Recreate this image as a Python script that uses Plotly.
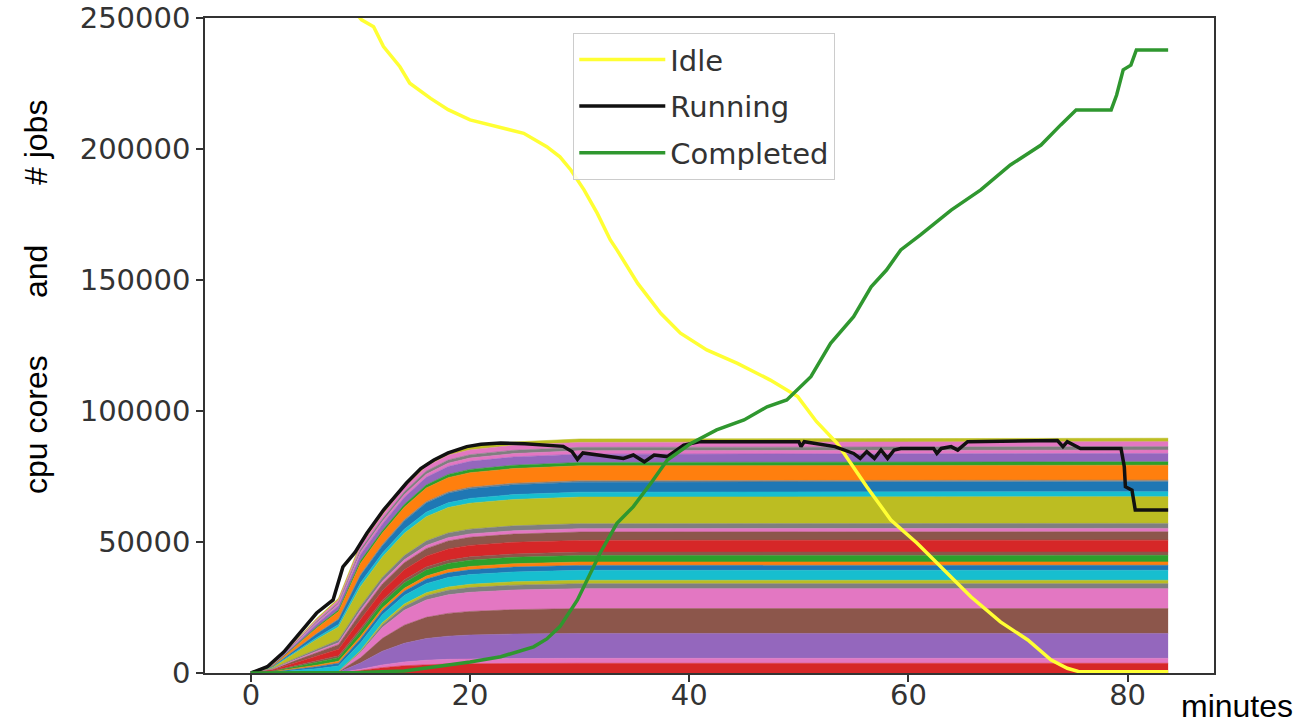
import plotly.graph_objects as go

# ---------------- data ----------------
# stacked cpu-core bands (thousands of cores), sampled at these minutes
stack_t = [0, 2, 4, 6, 8, 10, 12, 14, 16, 18, 20, 24, 30, 83.7]

band_a1_red    = [0, 0, 0, 0, 0.07, 0.93, 2.04, 2.78, 3.22, 3.44, 3.55, 3.64, 3.70, 3.70]
band_a2_pink   = [0, 0, 0, 0, 0.04, 0.48, 1.05, 1.43, 1.65, 1.77, 1.82, 1.87, 1.90, 1.90]
band_a3_purple = [0, 0, 0, 0, 0.19, 2.38, 5.23, 7.13, 8.27, 8.84, 9.12, 9.36, 9.50, 9.50]
band_a4_brown  = [0, 0, 0, 0, 0.10, 2.00, 4.90, 6.90, 8.10, 8.70, 9.00, 9.30, 9.50, 9.50]
band_a5_pink   = [0, 0, 0, 0, 0.15, 1.90, 4.18, 5.70, 6.61, 7.07, 7.30, 7.49, 7.60, 7.60]
band_a6_gray   = [0, 0, 0, 0, 0.04, 0.48, 1.05, 1.43, 1.65, 1.77, 1.82, 1.87, 1.90, 1.90]
band_a7_olive  = [0, 0, 0, 0, 0.03, 0.33, 0.72, 0.98, 1.13, 1.21, 1.25, 1.28, 1.30, 1.30]
band_b1_cyan   = [0.04, 0.30, 0.95, 1.60, 2.09, 2.96, 3.04, 3.23, 3.46, 3.61, 3.69, 3.74, 3.78, 3.80]
band_b2_blue   = [0.02, 0.15, 0.48, 0.80, 1.05, 1.48, 1.52, 1.62, 1.73, 1.81, 1.84, 1.87, 1.89, 1.90]
band_b3_orange = [0.01, 0.10, 0.33, 0.55, 0.72, 1.01, 1.04, 1.11, 1.18, 1.24, 1.26, 1.28, 1.29, 1.30]
band_b4_green  = [0.03, 0.20, 0.63, 1.05, 1.38, 1.95, 2.00, 2.13, 2.28, 2.38, 2.43, 2.46, 2.49, 2.50]
band_b5_brown  = [0.01, 0.10, 0.33, 0.55, 0.72, 1.01, 1.04, 1.11, 1.18, 1.24, 1.26, 1.28, 1.29, 1.30]
band_b6_red    = [0.05, 0.36, 1.13, 1.89, 2.48, 3.51, 3.60, 3.83, 4.10, 4.28, 4.37, 4.43, 4.48, 4.50]
band_b7_brown  = [0.03, 0.26, 0.80, 1.34, 1.76, 2.50, 2.56, 2.72, 2.91, 3.04, 3.10, 3.15, 3.18, 3.20]
band_b8_pink   = [0.01, 0.10, 0.33, 0.55, 0.72, 1.01, 1.04, 1.11, 1.18, 1.24, 1.26, 1.28, 1.29, 1.30]
band_b9_gray   = [0.02, 0.15, 0.48, 0.80, 1.05, 1.48, 1.52, 1.62, 1.73, 1.81, 1.84, 1.87, 1.89, 1.90]
band_c1_olive  = [0.05, 0.51, 2.04, 3.67, 5.00, 7.55, 7.75, 8.47, 9.28, 9.69, 9.89, 10.05, 10.15, 10.20]
band_c3_cyan   = [0.01, 0.10, 0.38, 0.68, 0.93, 1.41, 1.44, 1.58, 1.73, 1.81, 1.84, 1.87, 1.89, 1.90]
band_c4_blue   = [0.02, 0.19, 0.76, 1.37, 1.86, 2.81, 2.89, 3.15, 3.46, 3.61, 3.69, 3.74, 3.78, 3.80]
band_c5_gray   = [0.00, 0.03, 0.12, 0.22, 0.29, 0.44, 0.46, 0.50, 0.55, 0.57, 0.58, 0.59, 0.60, 0.60]
band_c6_orange = [0.03, 0.29, 1.14, 2.05, 2.79, 4.22, 4.33, 4.73, 5.19, 5.42, 5.53, 5.61, 5.67, 5.70]
band_c7_green  = [0.01, 0.07, 0.26, 0.47, 0.64, 0.96, 0.99, 1.08, 1.18, 1.24, 1.26, 1.28, 1.29, 1.30]
band_c8_purple = [0.02, 0.16, 0.64, 1.15, 1.57, 2.37, 2.43, 2.66, 2.91, 3.04, 3.10, 3.15, 3.18, 3.20]
band_c9_pink   = [0.01, 0.07, 0.26, 0.47, 0.64, 0.96, 0.99, 1.08, 1.18, 1.24, 1.26, 1.28, 1.29, 1.30]
band_c10_gray  = [0.01, 0.07, 0.26, 0.47, 0.64, 0.96, 0.99, 1.08, 1.18, 1.24, 1.26, 1.28, 1.29, 1.30]
band_c11_pink  = [0.01, 0.10, 0.38, 0.68, 0.93, 1.41, 1.44, 1.58, 1.73, 1.81, 1.84, 1.87, 1.89, 1.90]
band_c12_olive = [0.01, 0.07, 0.26, 0.47, 0.64, 0.96, 0.99, 1.08, 1.18, 1.24, 1.26, 1.28, 1.29, 1.30]

# Running jobs
running_t = [0, 1.5, 3, 4.5, 6, 7.5, 8.4, 9.5, 10.6, 12.1, 13, 14.2, 15.5, 16.7, 18, 19.7, 21, 22.8,
             25, 27.3, 28.5, 29.3, 29.8, 30.3, 31.9, 34.0, 34.9, 35.9, 36.8, 38.0, 39.5, 41.0, 45,
             50.0, 50.2, 50.5, 53.3, 55.0, 55.6, 56.2, 56.9, 57.5, 58.1, 58.7, 59.3, 62.3, 62.6, 63.0,
             63.9, 64.5, 65.4, 73.6, 74.1, 74.5, 75.7, 79.4, 79.7, 79.8, 80.4, 80.7, 83.7]
running_v = [0, 2400, 8000, 15300, 22900, 27900, 40500, 46000, 53400, 62200, 66500, 72500, 78000,
             81300, 84000, 86400, 87300, 87800, 87500, 87000, 86500, 84500, 81500, 84000, 83200,
             81900, 83200, 80600, 83200, 82600, 87000, 88300, 88300, 88300, 86400, 88300, 86400,
             83800, 81900, 84500, 81900, 85100, 81900, 85100, 85700, 85700, 83800, 85700, 86400,
             85100, 88300, 88700, 86400, 88300, 85700, 85700, 78700, 71100, 69800, 62200, 62200]

# Idle jobs
idle_t = [0, 8, 10.1, 11.2, 12.1, 13.6, 14.5, 16.4, 18, 20, 22.5, 24.9, 27, 28.2, 29.2, 30.4, 31.6,
          32.8, 33.4, 35.3, 37.4, 39.2, 41.6, 44.4, 47.4, 49.9, 51.6, 53.5, 56.2, 58.4, 60.8, 63.9,
          65.7, 68.4, 70.9, 73.0, 74.5, 75.5, 83.7]
idle_v = [300000, 260000, 249300, 246700, 239100, 231400, 225100, 219300, 215000, 211100, 208500,
          206000, 200900, 197000, 192000, 184400, 175500, 165300, 161500, 148700, 137300, 129700,
          123300, 118200, 111800, 105500, 96000, 87700, 71100, 58400, 49500, 36800, 29100, 19500,
          12600, 5000, 1800, 600, 500]

# Completed jobs
completed_t = [0, 10, 14, 16.7, 20, 22.8, 25.8, 27, 28.2, 29.8, 31.0, 31.9, 33.4, 34.9, 36.5, 38.0,
               40.1, 42.5, 45.0, 47.1, 48.9, 51.1, 52.9, 55.0, 56.6, 58, 59.3, 61.1, 63.9, 66.6,
               69.3, 72.1, 73.9, 75.3, 78.5, 79.0, 79.6, 80.3, 80.8, 83.7]
completed_v = [0, 200, 800, 2400, 4200, 6200, 10000, 13000, 17700, 27900, 38000, 46000, 57100,
               63500, 72400, 81300, 87500, 92800, 96600, 101600, 104200, 113100, 125800, 136000,
               147400, 153800, 161500, 167200, 176700, 184400, 193900, 201500, 209200, 214900,
               214900, 220600, 230200, 232000, 237800, 237800]

x_ticks = [0, 20, 40, 60, 80]
y_ticks = [0, 50000, 100000, 150000, 200000, 250000]
y_tick_labels = ["0", "50000", "100000", "150000", "200000", "250000"]

# ---------------- figure ----------------
RED, PINK, PURPLE, BROWN = "#d62728", "#e377c2", "#9467bd", "#8c564b"
GRAY, OLIVE, CYAN, BLUE = "#7f7f7f", "#bcbd22", "#17becf", "#1f77b4"
ORANGE, GREEN = "#ff7f0e", "#2ca02c"

bands = [
    (band_a1_red, RED), (band_a2_pink, PINK), (band_a3_purple, PURPLE), (band_a4_brown, BROWN),
    (band_a5_pink, PINK), (band_a6_gray, GRAY), (band_a7_olive, OLIVE), (band_b1_cyan, CYAN),
    (band_b2_blue, BLUE), (band_b3_orange, ORANGE), (band_b4_green, GREEN), (band_b5_brown, BROWN),
    (band_b6_red, RED), (band_b7_brown, BROWN), (band_b8_pink, PINK), (band_b9_gray, GRAY),
    (band_c1_olive, OLIVE), (band_c3_cyan, CYAN), (band_c4_blue, BLUE), (band_c5_gray, GRAY),
    (band_c6_orange, ORANGE), (band_c7_green, GREEN), (band_c8_purple, PURPLE),
    (band_c9_pink, PINK), (band_c10_gray, GRAY), (band_c11_pink, PINK), (band_c12_olive, OLIVE),
]

fig = go.Figure()
for vals, col in bands:
    fig.add_trace(go.Scatter(
        x=stack_t, y=[v * 1000 for v in vals], stackgroup="cores", mode="lines",
        line=dict(width=0.6, color=col), fillcolor=col, showlegend=False, hoverinfo="skip"))

fig.add_trace(go.Scatter(x=idle_t, y=idle_v, mode="lines", name="Idle",
                         line=dict(color="#ffff33", width=3.5), legendgroup="idle"))
fig.add_trace(go.Scatter(x=running_t, y=running_v, mode="lines", name="Running",
                         line=dict(color="#111111", width=3.5), legendgroup="run"))
fig.add_trace(go.Scatter(x=completed_t, y=completed_v, mode="lines", name="Completed",
                         line=dict(color="#2f972f", width=3.5), legendgroup="comp"))

tickfont = dict(family="DejaVu Sans", size=29, color="#333333")
axis_common = dict(ticks="outside", ticklen=7, tickcolor="#333", tickwidth=1.5, showline=True,
                   linecolor="#333", linewidth=1.5, mirror=True, showgrid=False, zeroline=False,
                   tickfont=tickfont, automargin=False, ticklabeloverflow="allow")
fig.update_layout(
    width=1302, height=725,
    margin=dict(l=205, r=88, t=18, b=52, autoexpand=False),
    paper_bgcolor="white", plot_bgcolor="white",
    xaxis=dict(range=[-4.185, 87.885], tickvals=x_ticks, ticklabelstandoff=-12, **axis_common),
    yaxis=dict(range=[0, 250000], tickvals=y_ticks, ticktext=y_tick_labels, **axis_common),
    legend=dict(x=0.365, y=0.977, xanchor="left", yanchor="top",
                bgcolor="rgba(255,255,255,0.85)", bordercolor="#cccccc", borderwidth=1,
                font=dict(family="DejaVu Sans", size=29, color="#333333"),
                traceorder="grouped", tracegroupgap=6, itemwidth=86),
    showlegend=True,
)

label_font = dict(family="Liberation Sans, Arial", size=32, color="black")
for txt, ypix in [("# jobs", 143), ("and", 272), ("cpu cores", 425)]:
    fig.add_annotation(text=txt, xref="paper", yref="paper",
                       x=(36 - 205) / 1009, y=(673 - ypix) / 655,
                       textangle=-90, showarrow=False, font=label_font,
                       xanchor="center", yanchor="middle")
fig.add_annotation(text="minutes", xref="paper", yref="paper",
                   x=(1237 - 205) / 1009, y=(673 - 706) / 655, showarrow=False,
                   font=label_font, xanchor="center", yanchor="middle")

# remove the default page margin so the figure fills the window exactly
fig.write_html("out.html", config={"displayModeBar": False},
               post_script="document.body.style.margin='0';document.body.style.overflow='hidden';")
